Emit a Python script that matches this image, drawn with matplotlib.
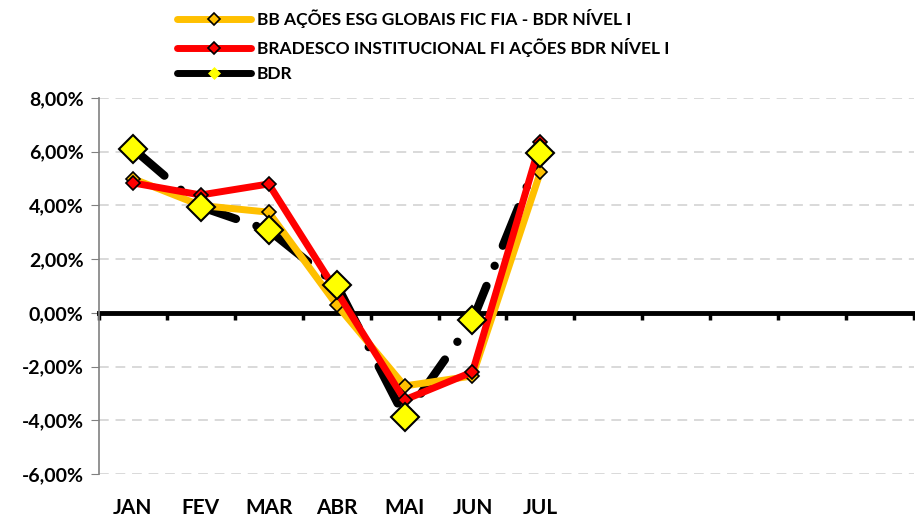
import matplotlib
matplotlib.use("Agg")
import matplotlib.pyplot as plt
from matplotlib.lines import Line2D
from matplotlib.ticker import FuncFormatter, FixedLocator

plt.rcParams['font.family'] = ['Lato', 'DejaVu Sans']
plt.rcParams['font.weight'] = 'bold'

months = ["JAN", "FEV", "MAR", "ABR", "MAI", "JUN", "JUL", "", "", "", "", ""]
bb_esg = [5.00, 4.00, 3.75, 0.30, -2.72, -2.35, 5.25]
bradesco = [4.84, 4.39, 4.80, 0.80, -3.24, -2.20, 6.35]
bdr = [6.12, 3.95, 3.08, 1.05, -3.87, -0.28, 5.95]

names = ["BB AÇÕES ESG GLOBAIS FIC FIA - BDR NÍVEL I",
         "BRADESCO INSTITUCIONAL FI AÇÕES BDR NÍVEL I",
         "BDR"]

fig = plt.figure(figsize=(9.15, 5.19), dpi=100)
ax = fig.add_axes([0.108, 0.0867, 0.891, 0.7244])

x = list(range(len(bb_esg)))

# BDR line (dash-dot, drawn under the funds)
ax.plot(x, bdr, color="black", lw=6, dash_capstyle="round",
        linestyle=(0, (5, 2.6, 0.01, 2.6)), zorder=3)
ax.plot(x, bb_esg, color="#FFC000", lw=5, marker="D", ms=7,
        mfc="#FFC000", mec="black", mew=1.2, zorder=4, solid_joinstyle="round")
ax.plot(x, bradesco, color="#FF0000", lw=5, marker="D", ms=7,
        mfc="#FF0000", mec="black", mew=1.2, zorder=5, solid_joinstyle="round")
ax.plot(x, bdr, linestyle="none", marker="D", ms=14, mfc="#FFFF00",
        mec="black", mew=1.5, zorder=6)

ax.set_xlim(-0.5, 11.5)
ax.set_ylim(-6, 8)
ax.set_yticks(range(-6, 9, 2))
ax.yaxis.set_major_formatter(FuncFormatter(lambda v, p: f"{v:.2f}%".replace(".", ",")))
ax.tick_params(axis="y", length=6, color="#808080", labelsize=14, pad=5)
for y in range(-6, 9, 2):
    if y != 0:
        ax.axhline(y, color="#D9D9D9", lw=1.4, dashes=(5, 3.5), zorder=1)

for s in ["top", "right"]:
    ax.spines[s].set_visible(False)
ax.spines["left"].set_color("#808080")
ax.spines["left"].set_linewidth(1.2)

# zero line with category tick marks
ax.spines["bottom"].set_position(("data", 0))
ax.spines["bottom"].set_linewidth(3.5)
ax.spines["bottom"].set_zorder(2)
ax.xaxis.set_major_locator(FixedLocator([i - 0.5 for i in range(13)]))
ax.tick_params(axis="x", length=5, width=2.5, labelbottom=False, direction="out")

sec = ax.secondary_xaxis(0)
sec.set_xticks(range(12))
sec.set_xticklabels(months)
sec.tick_params(length=0, labelsize=15, pad=17)
sec.spines["bottom"].set_visible(False)

handles = [
    Line2D([], [], color="#FFC000", lw=5, solid_capstyle="round", marker="D", ms=6,
           mfc="#FFC000", mec="black", mew=1.2),
    Line2D([], [], color="#FF0000", lw=5, solid_capstyle="round", marker="D", ms=6,
           mfc="#FF0000", mec="black", mew=1.2),
    Line2D([], [], color="black", lw=5, solid_capstyle="round", marker="D", ms=6,
           mfc="#FFFF00", mec="#FFFF00", mew=0.5),
]
fig.legend(handles, names, loc="upper left", bbox_to_anchor=(0.176, 1.012),
           frameon=False, fontsize=12.5, handlelength=4.3, labelspacing=0.55,
           handletextpad=0.3)

fig.savefig("out.png", dpi=100)
